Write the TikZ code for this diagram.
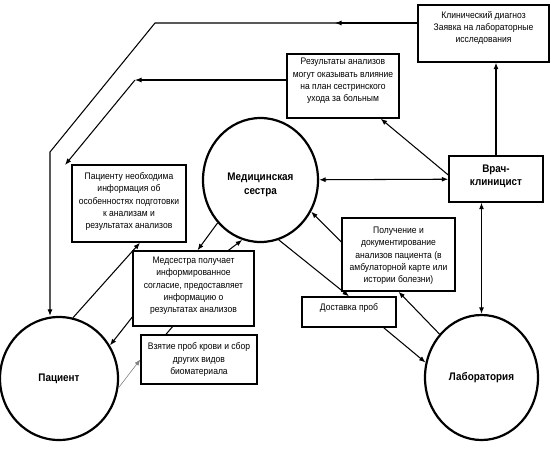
\documentclass[tikz,border=0pt]{standalone}
\usepackage{fontspec}
\setmainfont[FakeStretch=0.9]{Liberation Sans}
\usetikzlibrary{arrows.meta,shapes.geometric}
\begin{document}
\begin{tikzpicture}[x=1pt,y=-1pt,
  box/.style={draw, line width=1.4pt, inner sep=0pt},
  txt/.style={font=\fontsize{9.5}{12.3}\selectfont, align=center, inner sep=0pt},
  bigtxt/.style={font=\bfseries\fontsize{11}{14}\selectfont, align=center},
  bigc/.style={ellipse, draw, line width=2.2pt, inner sep=0pt, font=\bfseries\fontsize{11}{14}\selectfont, align=center},
  arr/.style={line width=1.05pt, -{Latex[length=6.5pt,width=5pt]}},
  darr/.style={line width=1.05pt, {Latex[length=6.5pt,width=5pt]}-{Latex[length=6.5pt,width=5pt]}},
  plain/.style={line width=1.05pt}]
\useasboundingbox (0,0) rectangle (551,448);

% circles
\node[bigc, minimum width=115pt, minimum height=124pt,
  label={[bigtxt,yshift=-4.5pt]center:{Медицинская\\сестра}}] (nurse) at (260.5,180) {};
\node[bigc, minimum width=118pt, minimum height=123pt] (pat) at (59,378.5) {Пациент};
\node[bigc, minimum width=113pt, minimum height=125pt] (lab) at (481.5,377.5) {Лаборатория};

% boxes
\node[box, minimum width=131pt, minimum height=57pt,
  label={[txt,yshift=5.5pt]center:{Клинический диагноз\\Заявка на лабораторные\\исследования}}] (klin) at (483.5,33.5) {};
\node[box, minimum width=112pt, minimum height=64pt,
  label={[txt,yshift=5pt]center:{Результаты анализов\\могут оказывать влияние\\на план сестринского\\ухода за больным}}] (res) at (343,86) {};
\node[box, minimum width=114pt, minimum height=77pt,
  label={[txt,yshift=2pt]center:{Пациенту необходима\\информация об\\особенностях подготовки\\к анализам и\\результатах анализов}}] (pac) at (129,203.5) {};
\node[box, minimum width=121pt, minimum height=75pt,
  label={[txt,yshift=2.5pt]center:{Медсестра получает\\информированное\\согласие, предоставляет\\информацию о\\результатах анализов}}] (med) at (193.5,288.5) {};
\node[box, minimum width=116pt, minimum height=49pt,
  label={[txt]center:{Взятие проб крови и сбор\\других видов\\биоматериала}}] (vzyat) at (199,359.5) {};
\node[box, minimum width=113pt, minimum height=73pt,
  label={[txt,yshift=-1.5pt]center:{Получение и\\документирование\\анализов пациента (в\\амбулаторной карте или\\истории болезни)}}] (polu) at (398.5,254.5) {};
\node[box, minimum width=94pt, minimum height=30pt,
  label={[txt,yshift=4pt]center:{Доставка проб}}] (dost) at (349,312) {};
\node[box, minimum width=94pt, minimum height=46pt,
  label={[bigtxt,yshift=2.5pt,font=\bfseries\fontsize{11}{13}\selectfont]center:{Врач-\\клиницист}}] (vrach) at (496,179) {};

% bend points
\coordinate (c1a) at (155,23);
\coordinate (c1b) at (50,152);
\coordinate (c1m) at (335,23);
\coordinate (c2a) at (135,80);
\coordinate (c2b) at (65,165);

% connectors
\draw[arr] (klin.west |- c1a) -- (c1a) -- (c1b) -- (pat.north -| c1b);
\draw[arr] (klin.west |- c1a) -- (c1m);
\draw[arr] (res.west |- c2a) -- (c2a);
\draw[arr] (c2a) -- (c2b);
\draw[arr] ([yshift=4pt]vrach.west) -- ([xshift=-19pt]res.south east);
\draw[arr] (vrach.north) -- (klin.south -| vrach.north);
\draw[darr] (nurse) -- (vrach);
\draw[darr] (vrach.south -| lab.north) -- (lab.north);
\draw[arr] (lab) -- (polu.south);
\draw[arr] ([yshift=12.5pt]polu.west) -- (nurse.-32);
\draw[arr] (nurse.-73) -- (dost.north);
\draw[arr] ([xshift=-13pt]dost.south east) -- (lab.165);
\draw[arr] (nurse.-135) -- ([xshift=4pt]med.north);
\draw[arr] ([xshift=35pt]med.north) -- (nurse.-107);
\draw[arr] ([yshift=-28.5pt]med.west) -- (pat.33);
\draw[arr] (pat.77) -- ([xshift=11pt]pac.south);
\draw[line width=0.6pt, gray, -{Latex[length=6pt,width=4.5pt]}] (pat.-9) -- (vzyat.west);
\draw[plain] ([xshift=-21pt]med.south) -- ([xshift=-33pt]vzyat.north);
\end{tikzpicture}
\end{document}
